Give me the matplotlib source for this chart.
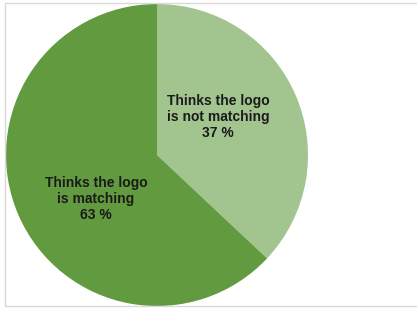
import matplotlib.pyplot as plt
from matplotlib.patches import Rectangle

# data
labels = ["Thinks the logo\nis not matching", "Thinks the logo\nis matching"]
values = [37, 63]
colors = ["#a2c58f", "#619a3f"]

plt.rcParams['font.family'] = ['Liberation Sans', 'DejaVu Sans']

fig = plt.figure(figsize=(4.17, 3.09), dpi=100)
W, H = 417, 309

# light gray frame around the chart area
fig.patches.append(Rectangle((5 / W, 3.5 / H), 1.2, (302.5) / H, transform=fig.transFigure,
                             fill=False, edgecolor="#d9d9d9", linewidth=1))

ax = fig.add_axes([6 / W, 3 / H, 302 / W, 302 / H])
ax.pie(values, colors=colors, startangle=90, counterclock=False, radius=1,
       wedgeprops=dict(linewidth=0))
ax.set_xlim(-1, 1)
ax.set_ylim(-1, 1)
ax.set_aspect("equal")
ax.axis("off")

# label positions (data coords)
pos = [(0.404, 0.252), (-0.404, -0.291)]
for (x, y), lab, v in zip(pos, labels, values):
    ax.text(x, y, f"{lab}\n{v} %", ha="center", va="center", fontsize=10,
            fontweight="bold", color="#1a1a1a", linespacing=1.15)

fig.savefig("out.png", dpi=100)
